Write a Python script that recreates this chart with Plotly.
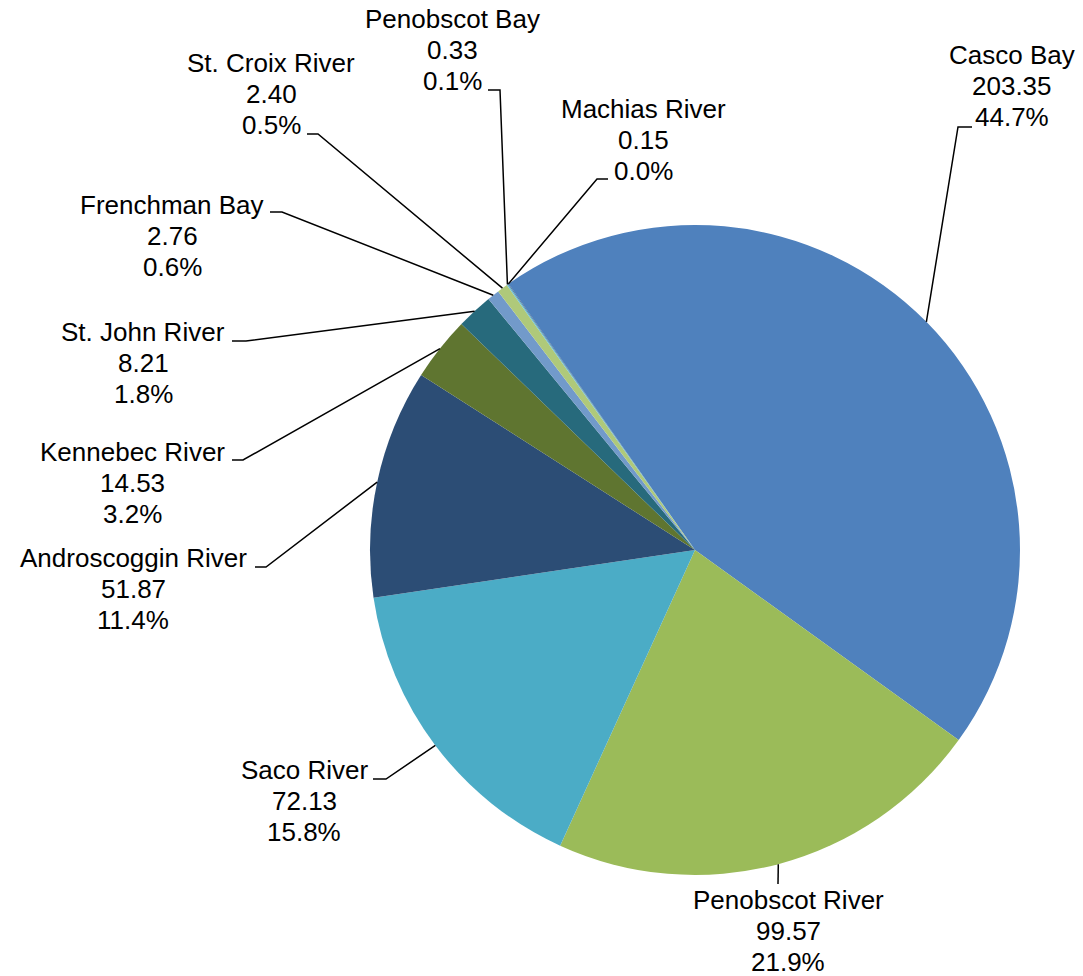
import math
import plotly.graph_objects as go

# Data
names = ["Casco Bay", "Penobscot River", "Saco River", "Androscoggin River",
         "Kennebec River", "St. John River", "Frenchman Bay", "St. Croix River",
         "Penobscot Bay", "Machias River"]
values = [203.35, 99.57, 72.13, 51.87, 14.53, 8.21, 2.76, 2.40, 0.33, 0.15]

colors = ["#4F81BD", "#9BBB59", "#4BACC6", "#2C4D75", "#5F7530",
          "#276A7C", "#729ACA", "#AFC97A", "#6FBDD1", "#3A6494"]

W, H = 1083, 976
CX, CY, R = 695, 550, 325  # pie centre / radius in px
ROTATION = -35
LINE_GAP = 31

# label layout in px: text centre (middle line), leader elbow (start, end)
label_pos = {
    "Casco Bay": ((1012, 86), (972, 127), (958, 127)),
    "Penobscot River": ((788, 931), (778, 884), (778, 884)),
    "Saco River": ((304, 801), (373, 779), (386, 779)),
    "Androscoggin River": ((133, 589), (255, 567), (266, 567)),
    "Kennebec River": ((132, 483), (232, 460), (243, 460)),
    "St. John River": ((143, 363), (232, 341), (246, 341)),
    "Frenchman Bay": ((172, 236), (270, 212), (282, 212)),
    "St. Croix River": ((271, 94), (307, 134), (318, 134)),
    "Penobscot Bay": ((452, 50), (488, 90), (500, 90)),
    "Machias River": ((643, 140), (608, 179), (597, 179)),
}


def px(x, y):
    return x / W, 1 - y / H


fig = go.Figure()
x0, y1 = px(CX - R, CY - R)
x1, y0 = px(CX + R, CY + R)
fig.add_trace(go.Pie(
    labels=names, values=values, sort=False, direction="clockwise",
    rotation=ROTATION, textinfo="none", hoverinfo="label+value+percent",
    marker=dict(colors=colors, line=dict(width=0)),
    domain=dict(x=[x0, x1], y=[y0, y1]),
    showlegend=False,
))

total = sum(values)
cum = 0.0
for name, v in zip(names, values):
    mid = ROTATION + 360 * (cum + v / 2) / total
    cum += v
    ex = CX + R * math.sin(math.radians(mid))
    ey = CY - R * math.cos(math.radians(mid))
    (tx, ty), p0, p1 = label_pos[name]
    a, b, c = px(*p0), px(*p1), px(ex, ey)
    fig.add_shape(type="path", xref="paper", yref="paper",
                  path=f"M {a[0]} {a[1]} L {b[0]} {b[1]} L {c[0]} {c[1]}",
                  line=dict(color="black", width=1.5))
    pct = 100 * v / total
    for k, line in enumerate([name, f"{v:.2f}", f"{pct:.1f}%"]):
        lx, ly = px(tx, ty + (k - 1) * LINE_GAP)
        fig.add_annotation(x=lx, y=ly, xref="paper", yref="paper",
                           text=line, showarrow=False,
                           xanchor="center", yanchor="middle",
                           font=dict(family="Liberation Sans, Arial", size=26, color="black"))

fig.update_layout(width=W, height=H, margin=dict(l=0, r=0, t=0, b=0),
                  paper_bgcolor="white", plot_bgcolor="white")
# drop the default 8px body margin so the figure fills the window exactly
fig.write_html("out.html", config={"displayModeBar": False},
               post_script="document.body.style.margin='0';")
